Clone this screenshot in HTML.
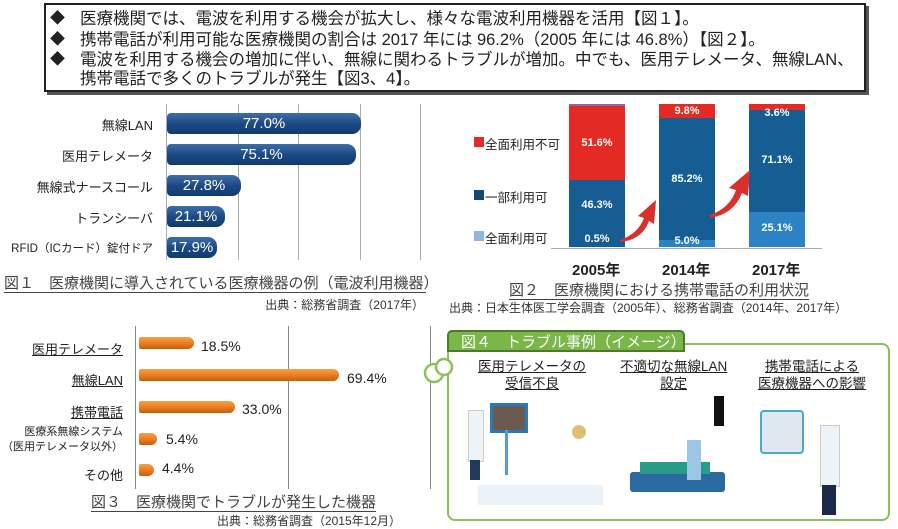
<!DOCTYPE html>
<html><head><meta charset="utf-8"><style>
body{margin:0;width:898px;height:529px;background:#fff;position:relative;overflow:hidden;font-family:"Liberation Sans","Noto Sans CJK JP",sans-serif;color:#222}
.a{position:absolute;white-space:nowrap}
.box{position:absolute;left:44px;top:3px;width:818px;height:85px;border:2px solid #222;box-shadow:3px 3px 0 #555}
.ln{position:absolute;left:80px;font-size:16.5px;line-height:20px}
.dm{position:absolute;left:50px;font-size:15px;line-height:20px}
.bar1{position:absolute;left:167px;height:21px;background:linear-gradient(#3e6ea8,#1c4a85 50%,#123a6e);border-radius:4px 9px 9px 4px;color:#fff;font-size:15px;text-align:center;line-height:21px}
.lab{position:absolute;font-size:13px;text-align:right;white-space:nowrap}
.grid{position:absolute;width:1px;background:#aaa}
.bar3{position:absolute;left:139px;height:12px;background:linear-gradient(#f7a04a,#e8761c 60%,#c85e10);border-radius:2px 6px 6px 2px}
.val{position:absolute;font-size:14px;white-space:nowrap}
.cap{position:absolute;font-size:15px;color:#444;border-bottom:1.5px solid #444;white-space:nowrap;line-height:17px}
.src{position:absolute;font-size:12px;color:#333;white-space:nowrap}
.sg{position:absolute;color:#fff;font-size:11px;text-align:center;font-weight:bold}
</style></head><body>
<div class="box"></div>
<div class="dm" style="top:9px">◆</div><div class="ln" style="top:9px">医療機関では、電波を利用する機会が拡大し、様々な電波利用機器を活用【図１】。</div>
<div class="dm" style="top:30px">◆</div><div class="ln" style="top:30px">携帯電話が利用可能な医療機関の割合は 2017 年には 96.2%（2005 年には 46.8%）【図２】。</div>
<div class="dm" style="top:50px">◆</div><div class="ln" style="top:50px">電波を利用する機会の増加に伴い、無線に関わるトラブルが増加。中でも、医用テレメータ、無線LAN、</div>
<div class="ln" style="top:69px">携帯電話で多くのトラブルが発生【図3、4】。</div>

<!-- Fig1 -->
<div class="grid" style="left:166px;top:104px;height:156px"></div>
<div class="grid" style="left:238px;top:104px;height:156px"></div>
<div class="grid" style="left:298px;top:104px;height:156px"></div>
<div class="grid" style="left:360px;top:104px;height:156px"></div>
<div class="grid" style="left:420px;top:104px;height:156px"></div>
<div class="bar1" style="top:113px;width:194px">77.0%</div>
<div class="bar1" style="top:144px;width:189px">75.1%</div>
<div class="bar1" style="top:175px;width:74px">27.8%</div>
<div class="bar1" style="top:206px;width:58px">21.1%</div>
<div class="bar1" style="top:237px;width:50px">17.9%</div>
<div class="lab" style="right:745px;top:115px">無線LAN</div>
<div class="lab" style="right:745px;top:146px">医用テレメータ</div>
<div class="lab" style="right:745px;top:177px">無線式ナースコール</div>
<div class="lab" style="right:745px;top:208px">トランシーバ</div>
<div class="lab" style="right:745px;top:240px;font-size:11.5px">RFID（ICカード）錠付ドア</div>
<div class="cap" style="left:4px;top:275px;width:422px">図１　医療機関に導入されている医療機器の例（電波利用機器）</div>
<div class="src" style="right:474px;top:296px">出典：総務省調査（2017年）</div>

<!-- Fig2 -->
<div class="a" style="left:569px;top:104px;width:56px;height:2px;background:#8a6aa8"></div>
<div class="a" style="left:569px;top:106px;width:56px;height:74px;background:#e42a24"></div>
<div class="a" style="left:569px;top:180px;width:56px;height:67px;background:#155d93"></div>
<div class="a" style="left:659px;top:104px;width:56px;height:14px;background:#e42a24"></div>
<div class="a" style="left:659px;top:118px;width:56px;height:122px;background:#155d93"></div>
<div class="a" style="left:659px;top:240px;width:56px;height:7px;background:#2c83c4"></div>
<div class="a" style="left:749px;top:104px;width:56px;height:6px;background:#e42a24"></div>
<div class="a" style="left:749px;top:110px;width:56px;height:102px;background:#155d93"></div>
<div class="a" style="left:749px;top:212px;width:56px;height:35px;background:#2c83c4"></div>
<div class="a" style="left:551px;top:248px;width:271px;height:1px;background:#aaa"></div>
<div class="sg" style="left:569px;width:56px;top:137px">51.6%</div>
<div class="sg" style="left:569px;width:56px;top:199px">46.3%</div>
<div class="sg" style="left:569px;width:56px;top:233px">0.5%</div>
<div class="sg" style="left:659px;width:56px;top:105px">9.8%</div>
<div class="sg" style="left:659px;width:56px;top:173px">85.2%</div>
<div class="sg" style="left:659px;width:56px;top:235px">5.0%</div>
<div class="sg" style="left:749px;width:56px;top:107px">3.6%</div>
<div class="sg" style="left:749px;width:56px;top:154px">71.1%</div>
<div class="sg" style="left:749px;width:56px;top:222px">25.1%</div>
<svg class="a" style="left:620px;top:200px" width="40" height="45"><path d="M0 40 Q18 34 24 18 L18 16 L36 0 L34 24 L29 21 Q22 40 0 42Z" fill="#d9302c"/></svg>
<svg class="a" style="left:710px;top:170px" width="42" height="50"><path d="M0 45 Q20 38 26 20 L19 18 L40 0 L38 26 L32 23 Q24 44 0 48Z" fill="#d9302c"/></svg>
<div class="a" style="left:474px;top:137px;width:10px;height:10px;background:#e42a24"></div>
<div class="a" style="left:485px;top:134px;font-size:12.5px">全面利用不可</div>
<div class="a" style="left:474px;top:190px;width:10px;height:10px;background:#14477a"></div>
<div class="a" style="left:485px;top:187px;font-size:12.5px">一部利用可</div>
<div class="a" style="left:474px;top:231px;width:10px;height:10px;background:#8fb8dc"></div>
<div class="a" style="left:485px;top:228px;font-size:12.5px">全面利用可</div>
<div class="a" style="left:572px;top:259px;font-size:15px;font-weight:bold">2005年</div>
<div class="a" style="left:662px;top:259px;font-size:15px;font-weight:bold">2014年</div>
<div class="a" style="left:752px;top:259px;font-size:15px;font-weight:bold">2017年</div>
<div class="cap" style="left:509px;top:282px">図２　医療機関における携帯電話の利用状況</div>
<div class="src" style="left:449px;top:299px">出典：日本生体医工学会調査（2005年）、総務省調査（2014年、2017年）</div>

<!-- Fig3 -->
<div class="grid" style="left:135px;top:326px;height:163px;background:#888"></div>
<div class="grid" style="left:288px;top:326px;height:163px;background:#888"></div>
<div class="grid" style="left:430px;top:326px;height:163px;background:#888"></div>
<div class="bar3" style="top:337px;width:55px"></div>
<div class="bar3" style="top:369px;width:200px"></div>
<div class="bar3" style="top:401px;width:96px"></div>
<div class="bar3" style="top:433px;width:18px"></div>
<div class="bar3" style="top:464px;width:15px"></div>
<div class="val" style="left:201px;top:338px">18.5%</div>
<div class="val" style="left:347px;top:370px">69.4%</div>
<div class="val" style="left:242px;top:401px">33.0%</div>
<div class="val" style="left:166px;top:431px">5.4%</div>
<div class="val" style="left:162px;top:460px">4.4%</div>
<div class="lab" style="right:775px;top:339px;font-size:13px;text-decoration:underline">医用テレメータ</div>
<div class="lab" style="right:775px;top:370px;font-size:13px;text-decoration:underline">無線LAN</div>
<div class="lab" style="right:775px;top:402px;font-size:13px;text-decoration:underline">携帯電話</div>
<div class="lab" style="right:775px;top:425px;font-size:11px;line-height:15px">医療系無線システム<br>（医用テレメータ以外）</div>
<div class="lab" style="right:775px;top:465px;font-size:13px">その他</div>
<div class="cap" style="left:91px;top:494px">図３　医療機関でトラブルが発生した機器</div>
<div class="src" style="right:497px;top:512px">出典：総務省調査（2015年12月）</div>

<!-- Fig4 -->
<div class="a" style="left:447px;top:343px;width:443px;height:178px;border:2.5px solid #8dc05a;border-radius:8px;box-sizing:border-box"></div>
<div class="a" style="left:447px;top:330px;width:238px;height:22px;background:#7ab648;border:2px solid #4a7a2a;border-radius:5px 5px 0 0;color:#fff;font-size:15px;line-height:22px;padding-left:12px;box-sizing:border-box">図４　トラブル事例（イメージ）</div>
<svg class="a" style="left:418px;top:355px" width="40" height="30"><circle cx="16" cy="18" r="9" fill="#fff" stroke="#8dc05a" stroke-width="2.5"/><circle cx="26" cy="12" r="8" fill="#fff" stroke="#8dc05a" stroke-width="2.5"/></svg>
<div class="a" style="left:478px;top:358px;font-size:13.5px;text-align:center;line-height:17px;text-decoration:underline">医用テレメータの<br>受信不良</div>
<div class="a" style="left:620px;top:358px;font-size:13.5px;text-align:center;line-height:17px;text-decoration:underline">不適切な無線LAN<br>設定</div>
<div class="a" style="left:758px;top:358px;font-size:13.5px;text-align:center;line-height:17px;text-decoration:underline">携帯電話による<br>医療機器への影響</div>
<div class="a" style="left:490px;top:403px;width:32px;height:24px;background:#6a5a50;border:3px solid #2a7ab8"></div>
<div class="a" style="left:505px;top:430px;width:3px;height:45px;background:#5a9ad0"></div>
<div class="a" style="left:468px;top:410px;width:14px;height:50px;background:#eef3f8;border:1px solid #ccc"></div>
<div class="a" style="left:470px;top:460px;width:10px;height:20px;background:#1f3a5a"></div>
<div class="a" style="left:478px;top:485px;width:125px;height:20px;background:#eaf3f8"></div>
<div class="a" style="left:572px;top:425px;width:14px;height:14px;border-radius:50%;background:#e0c070"></div>
<div class="a" style="left:630px;top:472px;width:95px;height:20px;background:#2a6aa0;border-radius:3px"></div>
<div class="a" style="left:640px;top:462px;width:70px;height:12px;background:#2a9a8a"></div>
<div class="a" style="left:714px;top:396px;width:10px;height:30px;background:#111"></div>
<div class="a" style="left:687px;top:440px;width:14px;height:40px;background:#9cc6e8"></div>
<div class="a" style="left:760px;top:410px;width:40px;height:40px;background:#dfe8ee;border:2px solid #4aaac8;border-radius:4px"></div>
<div class="a" style="left:820px;top:425px;width:18px;height:60px;background:#eef3f8;border:1px solid #ccc"></div>
<div class="a" style="left:822px;top:485px;width:14px;height:30px;background:#1a2a4a"></div>
</body></html>
